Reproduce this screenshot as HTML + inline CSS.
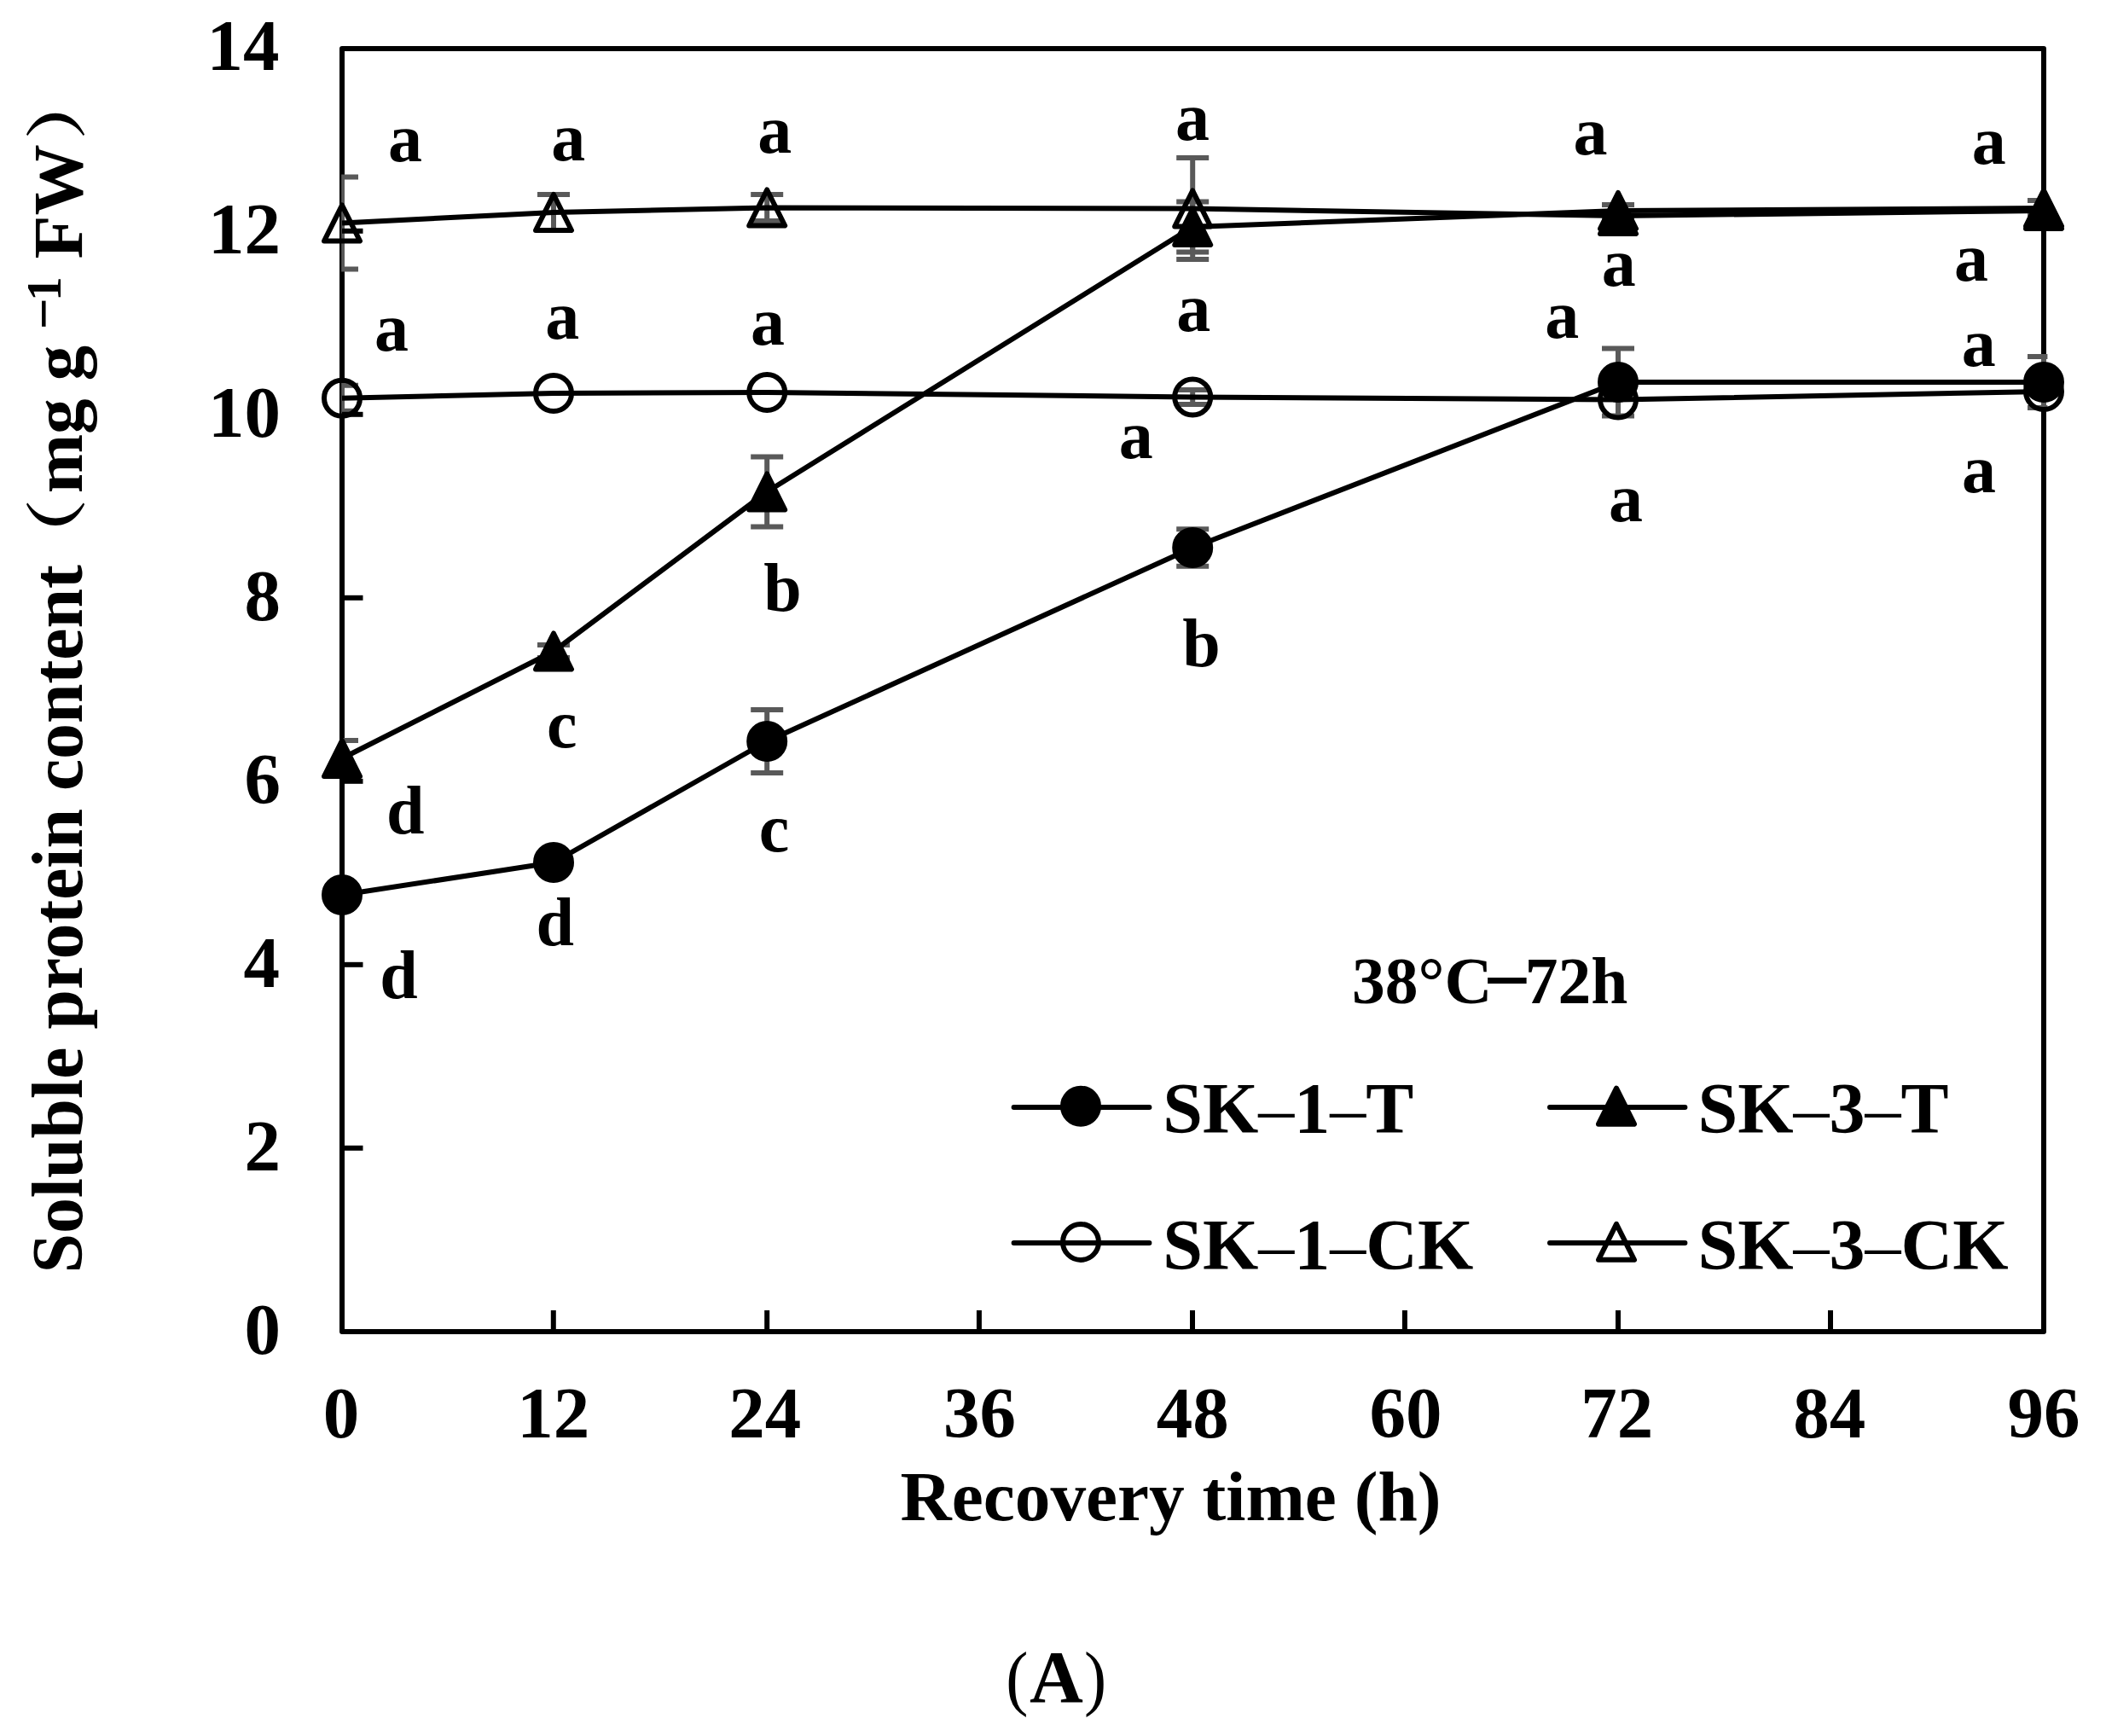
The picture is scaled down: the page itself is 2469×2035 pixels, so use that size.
<!DOCTYPE html>
<html lang="en"><head><meta charset="utf-8"><title>Soluble protein content</title>
<style>html,body{margin:0;padding:0;background:#fff}svg{display:block}text{font-family:'Liberation Serif', 'Noto Serif CJK SC', serif;font-weight:700;fill:#000}.r{font-weight:400}</style></head><body>
<svg width="2469" height="2035" viewBox="0 0 2469 2035">
<rect x="0" y="0" width="2469" height="2035" fill="#fff"/>
<defs><clipPath id="pc"><rect x="400.2" y="50" width="2000.2" height="1520"/></clipPath></defs>
<rect x="401" y="57" width="1995" height="1504" fill="none" stroke="#000" stroke-width="6" stroke-linejoin="round"/>
<g clip-path="url(#pc)" stroke="#595959" stroke-width="6" fill="none">
<path d="M899.2 832 V906 M880.2 832 H918.2 M880.2 906 H918.2"/>
<path d="M1398.2 620.2 V663.8 M1379.2 620.2 H1417.2 M1379.2 663.8 H1417.2"/>
<path d="M1897 408.5 V487.5 M1878 408.5 H1916 M1878 487.5 H1916"/>
<path d="M2396 418 V478 M2377 418 H2415 M2377 478 H2415"/>
<path d="M401 868 V910 M382 868 H420 M382 910 H420"/>
<path d="M649 756 V771 M630 756 H668 M630 771 H668"/>
<path d="M899.2 535.5 V617.5 M880.2 535.5 H918.2 M880.2 617.5 H918.2"/>
<path d="M1398.2 236.5 V295.5 M1379.2 236.5 H1417.2 M1379.2 295.5 H1417.2"/>
<path d="M1897 240 V254 M1878 240 H1916 M1878 254 H1916"/>
<path d="M2396 235 V253 M2377 235 H2415 M2377 253 H2415"/>
<path d="M401 451.8 V481.8 M382 451.8 H420 M382 481.8 H420"/>
<path d="M1398.2 457 V474 M1379.2 457 H1417.2 M1379.2 474 H1417.2"/>
<path d="M401 207.5 V315.5 M382 207.5 H420 M382 315.5 H420"/>
<path d="M649 228 V270 M630 228 H668 M630 270 H668"/>
<path d="M899.2 228 V259 M880.2 228 H918.2 M880.2 259 H918.2"/>
<path d="M1398.2 185 V304 M1379.2 185 H1417.2 M1379.2 304 H1417.2"/>
<path d="M1897 240 V266 M1878 240 H1916 M1878 266 H1916"/>
<path d="M2396 235 V259 M2377 235 H2415 M2377 259 H2415"/>
</g>
<g stroke="#000" stroke-width="6">
<line x1="401" y1="1345.8" x2="425.5" y2="1345.8"/>
<line x1="401" y1="1130.8" x2="425.5" y2="1130.8"/>
<line x1="401" y1="915.8" x2="425.5" y2="915.8"/>
<line x1="401" y1="700.8" x2="425.5" y2="700.8"/>
<line x1="401" y1="485.8" x2="425.5" y2="485.8"/>
<line x1="401" y1="270.8" x2="425.5" y2="270.8"/>
<line x1="648.8" y1="1561" x2="648.8" y2="1536"/>
<line x1="899.2" y1="1561" x2="899.2" y2="1536"/>
<line x1="1147.9" y1="1561" x2="1147.9" y2="1536"/>
<line x1="1398" y1="1561" x2="1398" y2="1536"/>
<line x1="1646.9" y1="1561" x2="1646.9" y2="1536"/>
<line x1="1897" y1="1561" x2="1897" y2="1536"/>
<line x1="2146" y1="1561" x2="2146" y2="1536"/>
</g>
<g fill="none" stroke="#000" stroke-width="6" stroke-linejoin="round">
<polyline points="401,1049 649,1011 899.2,869 1398.2,642 1897,448 2396,448"/>
<polyline points="401,889 649,763.5 899.2,576.5 1398.2,266 1897,247 2396,244"/>
<polyline points="401,466.8 649,461 899.2,460 1398.2,465.5 1897,468.5 2396,459"/>
<polyline points="401,261.5 649,249 899.2,243.5 1398.2,244.5 1897,253 2396,247"/>
</g>
<g stroke="#000" stroke-width="6" stroke-linejoin="round">
<circle cx="401" cy="1049" r="21" fill="#000"/>
<circle cx="649" cy="1011" r="21" fill="#000"/>
<circle cx="899.2" cy="869" r="21" fill="#000"/>
<circle cx="1398.2" cy="642" r="21" fill="#000"/>
<circle cx="1897" cy="448" r="21" fill="#000"/>
<circle cx="2396" cy="448" r="21" fill="#000"/>
<path d="M401 868 L422 910 H380Z" fill="#000"/>
<path d="M649 742.5 L670 784.5 H628Z" fill="#000"/>
<path d="M899.2 555.5 L920.2 597.5 H878.2Z" fill="#000"/>
<path d="M1398.2 245 L1419.2 287 H1377.2Z" fill="#000"/>
<path d="M1897 226 L1918 268 H1876Z" fill="#000"/>
<path d="M2396 223 L2417 265 H2375Z" fill="#000"/>
<circle cx="401" cy="466.8" r="21" fill="none"/>
<circle cx="649" cy="461" r="21" fill="none"/>
<circle cx="899.2" cy="460" r="21" fill="none"/>
<circle cx="1398.2" cy="465.5" r="21" fill="none"/>
<circle cx="1897" cy="468.5" r="21" fill="none"/>
<circle cx="2396" cy="459" r="21" fill="none"/>
<path d="M401 240.5 L422 282.5 H380Z" fill="none"/>
<path d="M649 228 L670 270 H628Z" fill="none"/>
<path d="M899.2 222.5 L920.2 264.5 H878.2Z" fill="none"/>
<path d="M1398.2 223.5 L1419.2 265.5 H1377.2Z" fill="none"/>
<path d="M1897 232 L1918 274 H1876Z" fill="none"/>
<path d="M2396 226 L2417 268 H2375Z" fill="none"/>
</g>
<g stroke="#000" stroke-width="6" stroke-linecap="round" stroke-linejoin="round">
<line x1="1188.6" y1="1298" x2="1347.4" y2="1298"/>
<circle cx="1267" cy="1296.7" r="21" fill="#000"/>
<line x1="1188.6" y1="1457" x2="1347.4" y2="1457"/>
<circle cx="1267" cy="1455.9" r="21" fill="none"/>
<line x1="1817" y1="1298" x2="1975.4" y2="1298"/>
<path d="M1895 1275.7 L1916 1317.7 H1874Z" fill="#000"/>
<line x1="1817" y1="1457" x2="1975.4" y2="1457"/>
<path d="M1895 1434.8 L1916 1476.8 H1874Z" fill="none"/>
</g>
<text x="1363.2" y="1328" font-size="84">SK<tspan class="r">–</tspan>1<tspan class="r">–</tspan>T</text>
<text x="1363.2" y="1487.5" font-size="84">SK<tspan class="r">–</tspan>1<tspan class="r">–</tspan>CK</text>
<text x="1990.5" y="1328" font-size="84">SK<tspan class="r">–</tspan>3<tspan class="r">–</tspan>T</text>
<text x="1990.5" y="1487.5" font-size="84">SK<tspan class="r">–</tspan>3<tspan class="r">–</tspan>CK</text>
<text y="1175.6" font-size="77.5"><tspan x="1585">38°C</tspan><tspan x="1739" dy="6.5" font-size="98">−</tspan><tspan x="1787.8" dy="-6.5" font-size="77.5">72h</tspan></text>
<text x="328.9" y="1587.1" font-size="85" text-anchor="end">0</text>
<text x="328.9" y="1372.1" font-size="85" text-anchor="end">2</text>
<text x="327.9" y="1157.1" font-size="85" text-anchor="end">4</text>
<text x="328.9" y="942.1" font-size="85" text-anchor="end">6</text>
<text x="328.9" y="727.1" font-size="85" text-anchor="end">8</text>
<text x="328.9" y="512.1" font-size="85" text-anchor="end">10</text>
<text x="328.9" y="297.1" font-size="85" text-anchor="end">12</text>
<text x="327.4" y="82.1" font-size="85" text-anchor="end">14</text>
<text x="400" y="1684.5" font-size="85" text-anchor="middle">0</text>
<text x="648.7" y="1684.5" font-size="85" text-anchor="middle">12</text>
<text x="896.8" y="1684.5" font-size="85" text-anchor="middle">24</text>
<text x="1148.5" y="1684.5" font-size="85" text-anchor="middle">36</text>
<text x="1398.3" y="1684.5" font-size="85" text-anchor="middle">48</text>
<text x="1648" y="1684.5" font-size="85" text-anchor="middle">60</text>
<text x="1895.8" y="1684.5" font-size="85" text-anchor="middle">72</text>
<text x="2144.7" y="1684.5" font-size="85" text-anchor="middle">84</text>
<text x="2396" y="1684.5" font-size="85" text-anchor="middle">96</text>
<text x="1055.6" y="1782.3" font-size="83.33">Recovery time (h)</text>
<text transform="translate(1179.3,1994.5) scale(0.92,1)" font-size="85.4" class="r">(</text>
<text x="1207" y="1994.5" font-size="87">A</text>
<text transform="translate(1271.1,1994.5) scale(0.92,1)" font-size="85.4" class="r">)</text>
<g transform="translate(95.5,1492.5) rotate(-90)">
<text x="0" y="0" font-size="83.65">Soluble protein content</text>
</g>
<text transform="translate(91.9,672.2) rotate(-90) scale(1.22,1)" font-size="72" style="font-family:'Noto Serif CJK SC', 'Liberation Serif', serif;font-weight:700">（</text>
<g transform="translate(95.5,578.3) rotate(-90)">
<text x="0" y="0" font-size="83.33">mg g</text>
</g>
<text transform="translate(72.7,386.4) rotate(-90)" font-size="65">−</text>
<text transform="translate(70.5,352.8) rotate(-90)" font-size="57">1</text>
<g transform="translate(95.5,303.5) rotate(-90)">
<text x="0" y="0" font-size="83.33">FW</text>
</g>
<text transform="translate(92,164.2) rotate(-90) scale(1.22,1)" font-size="72" style="font-family:'Noto Serif CJK SC', 'Liberation Serif', serif;font-weight:700">）</text>
<text x="455.1" y="189" font-size="80">a</text>
<text x="646.2" y="187.7" font-size="80">a</text>
<text x="439.1" y="410.6" font-size="80">a</text>
<text x="639.2" y="396.8" font-size="80">a</text>
<text x="888.2" y="179.4" font-size="80">a</text>
<text x="880.1" y="404.1" font-size="80">a</text>
<text x="1378.1" y="164.3" font-size="80">a</text>
<text x="1379.2" y="387.6" font-size="80">a</text>
<text x="1311.7" y="536.6" font-size="80">a</text>
<text x="1844.4" y="180.6" font-size="80">a</text>
<text x="1877.8" y="334.6" font-size="80">a</text>
<text x="1811.2" y="396" font-size="80">a</text>
<text x="1886.1" y="610.5" font-size="80">a</text>
<text x="2311.8" y="191.9" font-size="80">a</text>
<text x="2291.1" y="329.2" font-size="80">a</text>
<text x="2299.7" y="429.1" font-size="80">a</text>
<text x="2300" y="577.2" font-size="80">a</text>
<text x="895.3" y="716" font-size="80">b</text>
<text x="1386.3" y="780.8" font-size="80">b</text>
<text x="641.1" y="875.9" font-size="80">c</text>
<text x="889.7" y="997.7" font-size="80">c</text>
<text x="453.1" y="976.8" font-size="80">d</text>
<text x="628.4" y="1107.6" font-size="80">d</text>
<text x="445.2" y="1170.4" font-size="80">d</text>
</svg></body></html>
